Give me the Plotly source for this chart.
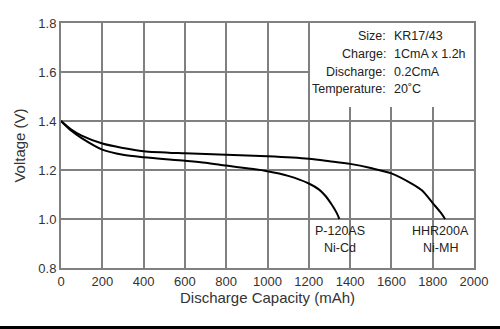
import plotly.graph_objects as go

# Ni-MH (HHR200A)
nimh_x = [0, 50, 100, 200, 300, 400, 600, 800, 1000, 1200, 1300, 1400, 1500, 1600, 1700, 1750, 1800, 1840, 1860]
nimh_v = [1.40, 1.365, 1.34, 1.308, 1.29, 1.277, 1.268, 1.262, 1.256, 1.246, 1.236, 1.225, 1.208, 1.186, 1.143, 1.115, 1.065, 1.025, 1.0]
# Ni-Cd (P-120AS)
nicd_x = [0, 50, 100, 200, 300, 400, 600, 700, 800, 900, 1000, 1100, 1200, 1250, 1280, 1310, 1335, 1348]
nicd_v = [1.40, 1.36, 1.33, 1.283, 1.262, 1.252, 1.238, 1.230, 1.218, 1.207, 1.195, 1.176, 1.145, 1.120, 1.095, 1.060, 1.025, 1.0]

x_ticks = list(range(0, 2001, 200))
y_ticks = [0.8, 1.0, 1.2, 1.4, 1.6, 1.8]

info_labels = ["Size:", "Charge:", "Discharge:", "Temperature:"]
info_values = ["KR17/43", "1CmA x 1.2h", "0.2CmA", "20˚C"]

FONT = "Liberation Sans, Arial, sans-serif"
GRID = "#808080"

fig = go.Figure()
fig.add_trace(go.Scatter(x=nimh_x, y=nimh_v, mode="lines",
                         line=dict(color="black", width=2, shape="spline", smoothing=0.8),
                         showlegend=False, hoverinfo="skip"))
fig.add_trace(go.Scatter(x=nicd_x, y=nicd_v, mode="lines",
                         line=dict(color="black", width=2, shape="spline", smoothing=0.8),
                         showlegend=False, hoverinfo="skip"))

annotations = []
y_lines = [1.745, 1.674, 1.601, 1.530]
for lab, val, yy in zip(info_labels, info_values, y_lines):
    annotations.append(dict(x=1582, y=yy, xref="x", yref="y", text=lab, showarrow=False,
                            xanchor="right", yanchor="middle", font=dict(size=12.5, color="#222", family=FONT)))
    annotations.append(dict(x=1602, y=yy, xref="x", yref="y", text=val, showarrow=False,
                            xanchor="left", yanchor="middle", font=dict(size=12.5, color="#222", family=FONT)))

for xx, l1, l2 in [(1350, "P-120AS", "Ni-Cd"), (1840, "HHR200A", "Ni-MH")]:
    annotations.append(dict(x=xx, y=0.951, xref="x", yref="y", text=l1, showarrow=False,
                            xanchor="center", yanchor="middle", font=dict(size=12.5, color="#222", family=FONT)))
    annotations.append(dict(x=xx, y=0.882, xref="x", yref="y", text=l2, showarrow=False,
                            xanchor="center", yanchor="middle", font=dict(size=12.5, color="#222", family=FONT)))

shapes = [
    dict(type="rect", xref="x", yref="y", x0=1206, x1=2000, y0=1.457, y1=1.8,
         fillcolor="white", line=dict(width=0), layer="between"),
    dict(type="line", xref="paper", yref="paper", x0=-0.2, x1=1.2, y0=-0.243, y1=-0.243,
         line=dict(color="black", width=3)),
]

fig.update_layout(
    width=500, height=329,
    margin=dict(l=61, r=24, t=23, b=61),
    paper_bgcolor="white", plot_bgcolor="white",
    font=dict(family=FONT, size=13, color="#333"),
    annotations=annotations, shapes=shapes,
)
fig.update_xaxes(range=[0, 2000], tickvals=x_ticks, ticks="", showgrid=True,
                 gridcolor=GRID, gridwidth=2, showline=True, mirror=True, linecolor=GRID,
                 linewidth=2, zeroline=False,
                 tickfont=dict(size=13, color="#333"),
                 title=dict(text="Discharge Capacity (mAh)", font=dict(size=15, color="#333"), standoff=3))
fig.update_yaxes(range=[0.8, 1.8], tickvals=y_ticks, tickformat=".1f", ticks="", showgrid=True,
                 gridcolor=GRID, gridwidth=2, showline=True, mirror=True, linecolor=GRID,
                 linewidth=2, zeroline=False,
                 tickfont=dict(size=13, color="#333"),
                 title=dict(text="Voltage (V)", font=dict(size=15, color="#333"), standoff=9))

fig.write_html("out.html")
